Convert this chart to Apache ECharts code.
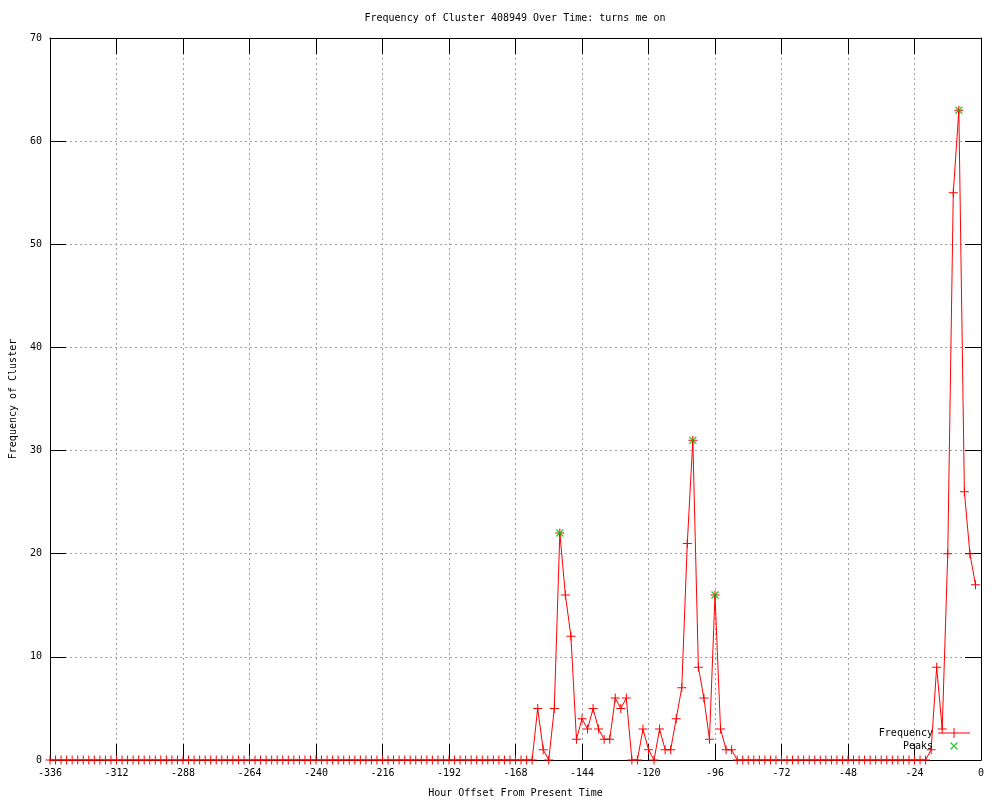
<!DOCTYPE html>
<html>
<head>
<meta charset="utf-8">
<script src="https://cdn.jsdelivr.net/npm/echarts@6/dist/echarts.min.js"></script>
<style>
html,body{margin:0;padding:0;background:#fff;}
#chart{width:1000px;height:800px;}
</style>
</head>
<body>
<div id="chart"></div>
<script>
var hours = [
-336,-334,-332,-330,-328,-326,-324,-322,-320,-318,-316,-314,-312,-310,-308,-306,-304,-302,-300,-298,
-296,-294,-292,-290,-288,-286,-284,-282,-280,-278,-276,-274,-272,-270,-268,-266,-264,-262,-260,-258,
-256,-254,-252,-250,-248,-246,-244,-242,-240,-238,-236,-234,-232,-230,-228,-226,-224,-222,-220,-218,
-216,-214,-212,-210,-208,-206,-204,-202,-200,-198,-196,-194,-192,-190,-188,-186,-184,-182,-180,-178,
-176,-174,-172,-170,-168,-166,-164,
-162,-160,-158,-156,-154,-152,-150,-148,-146,-144,
-142,-140,-138,-136,-134,-132,-130,-128,-126,-124,
-122,-120,-118,-116,-114,-112,-110,-108,-106,-104,
-102,-100,-98,-96,-94,-92,-90,
-88,-86,-84,-82,-80,-78,-76,-74,-72,-70,-68,-66,-64,-62,-60,-58,-56,-54,-52,-50,
-48,-46,-44,-42,-40,-38,-36,-34,-32,-30,-28,-26,-24,-22,-20,
-18,-16,-14,-12,-10,-8,-6,-4,-2
];
var frequency = [
0,0,0,0,0,0,0,0,0,0,0,0,0,0,0,0,0,0,0,0,
0,0,0,0,0,0,0,0,0,0,0,0,0,0,0,0,0,0,0,0,
0,0,0,0,0,0,0,0,0,0,0,0,0,0,0,0,0,0,0,0,
0,0,0,0,0,0,0,0,0,0,0,0,0,0,0,0,0,0,0,0,
0,0,0,0,0,0,0,
0,5,1,0,5,22,16,12,2,4,
3,5,3,2,2,6,5,6,0,0,
3,1,0,3,1,1,4,7,21,31,
9,6,2,16,3,1,1,
0,0,0,0,0,0,0,0,0,0,0,0,0,0,0,0,0,0,0,0,
0,0,0,0,0,0,0,0,0,0,0,0,0,0,0,
1,9,3,20,55,63,26,20,17
];
var peakHours = [-152, -104, -96, -8];
var peakValues = [22, 31, 16, 63];
var xTicks = {min: -336, max: 0, interval: 24};
var yTicks = {min: 0, max: 70, interval: 10};

var freqData = hours.map(function (h, i) { return [h, frequency[i]]; });
var peakData = peakHours.map(function (h, i) { return [h, peakValues[i]]; });

var FONT = 'DejaVu Sans Mono';
var plusPath = 'path://M4,0h1v9h-1z M0,4h9v1h-9z';
var xPath = 'path://M0,1 L1,0 L8,7 L7,8 Z M7,0 L8,1 L1,8 L0,7 Z';
var freqIcon = 'path://M0,4.5h32v1h-32z M15.5,0h1v10h-1z';
var peakIcon = 'path://M0,0 L0,0 Z M32,10 L32,10 Z M12,2 L13,1 L20,8 L19,9 Z M19,1 L20,2 L13,9 L12,8 Z';

var gridLine = {show: true, lineStyle: {color: '#a0a0a0', width: 1, type: [2, 3]}};
var axisLineStyle = {show: true, onZero: false, lineStyle: {color: '#000', width: 1}};
var tickStyle = {show: true, inside: true, length: 16, lineStyle: {color: '#000', width: 1}};
var labelStyle = {color: '#000', fontFamily: FONT, fontSize: 10};

var chart = echarts.init(document.getElementById('chart'), null, {renderer: 'canvas'});
chart.setOption({
  animation: false,
  backgroundColor: '#fff',
  title: {
    text: 'Frequency of Cluster 408949 Over Time: turns me on',
    left: 515, top: 13, textAlign: 'center', padding: 0,
    textStyle: {color: '#000', fontFamily: FONT, fontSize: 10, fontWeight: 'normal'}
  },
  grid: {left: 50, right: 19, top: 38, bottom: 40, containLabel: false, outerBoundsMode: 'none'},
  legend: {
    orient: 'vertical', align: 'right', right: 30, top: 728, padding: 0,
    itemWidth: 32, itemHeight: 10, itemGap: 3,
    textStyle: {color: '#000', fontFamily: FONT, fontSize: 10},
    data: [
      {name: 'Frequency', icon: freqIcon, itemStyle: {color: '#ff0000'}},
      {name: 'Peaks', icon: peakIcon, itemStyle: {color: '#00c000'}}
    ]
  },
  xAxis: [{
    type: 'value', position: 'bottom',
    min: xTicks.min, max: xTicks.max, interval: xTicks.interval,
    name: 'Hour Offset From Present Time', nameLocation: 'middle', nameGap: 28,
    nameTextStyle: {color: '#000', fontFamily: FONT, fontSize: 10},
    axisLine: axisLineStyle, axisTick: tickStyle,
    axisLabel: Object.assign({margin: 8}, labelStyle),
    splitLine: gridLine
  }, {
    type: 'value', position: 'top',
    min: xTicks.min, max: xTicks.max, interval: xTicks.interval,
    axisLine: axisLineStyle, axisTick: tickStyle,
    axisLabel: {show: false}, splitLine: {show: false}
  }],
  yAxis: [{
    type: 'value', position: 'left',
    min: yTicks.min, max: yTicks.max, interval: yTicks.interval,
    name: 'Frequency of Cluster', nameLocation: 'middle', nameGap: 32,
    nameTextStyle: {color: '#000', fontFamily: FONT, fontSize: 10},
    axisLine: axisLineStyle, axisTick: tickStyle,
    axisLabel: Object.assign({margin: 8}, labelStyle),
    splitLine: gridLine
  }, {
    type: 'value', position: 'right',
    min: yTicks.min, max: yTicks.max, interval: yTicks.interval,
    axisLine: axisLineStyle, axisTick: tickStyle,
    axisLabel: {show: false}, splitLine: {show: false}
  }],
  series: [{
    name: 'Frequency', type: 'line', xAxisIndex: 0, yAxisIndex: 0,
    data: freqData,
    symbol: plusPath, symbolSize: 9, showAllSymbol: true,
    itemStyle: {color: '#ff0000', borderWidth: 0},
    lineStyle: {color: '#ff0000', width: 1},
    emphasis: {disabled: true}, z: 3
  }, {
    name: 'Peaks', type: 'scatter', xAxisIndex: 0, yAxisIndex: 0,
    data: peakData,
    symbol: xPath, symbolSize: 8,
    itemStyle: {color: '#00c000', borderWidth: 0},
    emphasis: {disabled: true}, z: 4
  }]
});
</script>
</body>
</html>
